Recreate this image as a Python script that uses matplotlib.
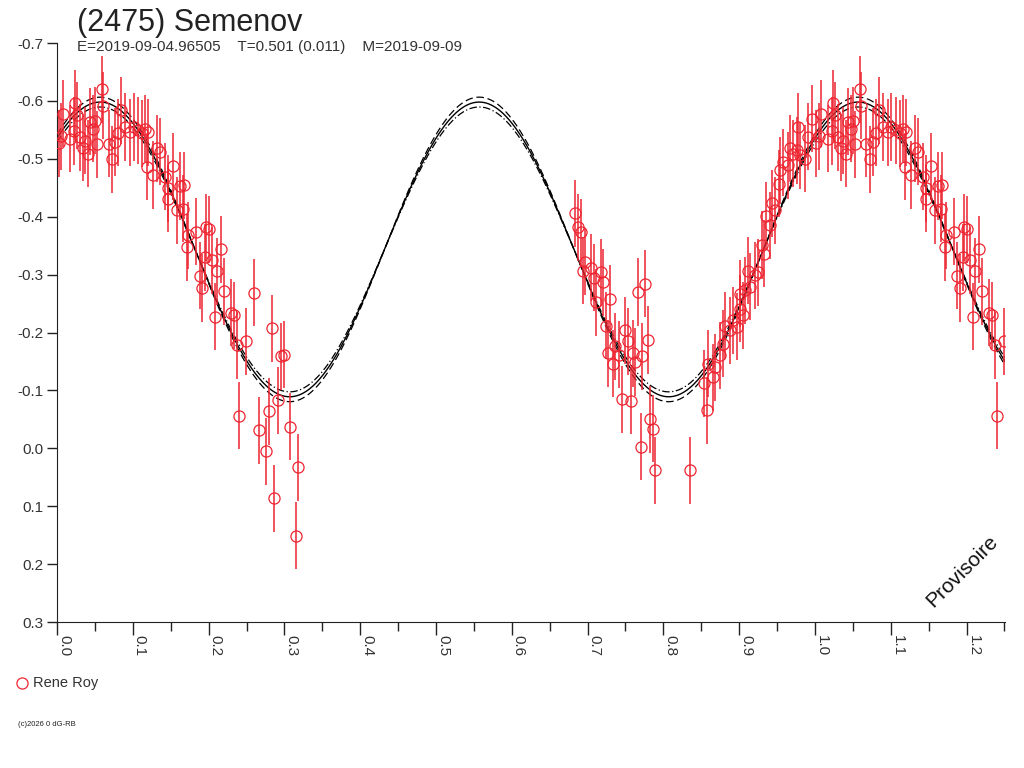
import numpy as np
import matplotlib
matplotlib.use('Agg')
from matplotlib import pyplot as plt
from matplotlib.ticker import MultipleLocator

plt.rcParams['font.family'] = ['Liberation Sans', 'DejaVu Sans']

# Observations (rotational phase, relative magnitude) - Rene Roy
phase = [0.002, 0.005, 0.008, 0.017, 0.022, 0.024, 0.026, 0.030, 0.034, 0.037,
         0.041, 0.044, 0.048, 0.050, 0.053, 0.059, 0.061, 0.068, 0.072, 0.077,
         0.081, 0.085, 0.090, 0.096, 0.101, 0.107, 0.112, 0.116, 0.120, 0.119,
         0.127, 0.132, 0.136, 0.142, 0.147, 0.147, 0.153, 0.162, 0.168, 0.158,
         0.166, 0.173, 0.171, 0.184, 0.197, 0.201, 0.188, 0.191, 0.195, 0.204,
         0.211, 0.216, 0.220, 0.208, 0.230, 0.234, 0.237, 0.249, 0.260, 0.240,
         0.266, 0.280, 0.276, 0.283, 0.292, 0.296, 0.299, 0.286, 0.308, 0.318,
         0.315,
         0.684, 0.688, 0.691, 0.694, 0.697, 0.704, 0.709, 0.718, 0.721, 0.711,
         0.730, 0.766, 0.776, 0.724, 0.750, 0.753, 0.736, 0.727, 0.741, 0.734,
         0.760, 0.763, 0.772, 0.780, 0.746, 0.757, 0.782, 0.786, 0.770, 0.789,
         0.835,
         0.857, 0.854, 0.859, 0.865, 0.868, 0.875, 0.879, 0.881, 0.888, 0.892,
         0.897, 0.901, 0.905, 0.901, 0.908, 0.912, 0.914, 0.921, 0.925, 0.930,
         0.933, 0.936, 0.941, 0.943, 0.947, 0.952, 0.954, 0.958, 0.965, 0.967,
         0.971, 0.976, 0.980, 0.987, 0.978, 0.991, 0.996]
mag = [-0.527, -0.539, -0.578, -0.535, -0.548, -0.596, -0.575, -0.537, -0.519, -0.531,
       -0.509, -0.564, -0.552, -0.566, -0.525, -0.620, -0.592, -0.526, -0.499, -0.529,
       -0.545, -0.584, -0.555, -0.546, -0.555, -0.549, -0.544, -0.552, -0.546, -0.486,
       -0.472, -0.518, -0.512, -0.469, -0.449, -0.431, -0.487, -0.453, -0.454, -0.411,
       -0.414, -0.368, -0.347, -0.374, -0.382, -0.378, -0.298, -0.277, -0.330, -0.325,
       -0.306, -0.344, -0.271, -0.227, -0.234, -0.230, -0.178, -0.185, -0.269, -0.056,
       -0.031, -0.064, 0.005, -0.207, -0.083, -0.159, -0.162, 0.086, -0.037, 0.033,
       0.151,
       -0.406, -0.382, -0.373, -0.307, -0.322, -0.312, -0.295, -0.304, -0.287, -0.252,
       -0.258, -0.270, -0.284, -0.212, -0.204, -0.185, -0.176, -0.164, -0.162, -0.146,
       -0.164, -0.149, -0.159, -0.187, -0.085, -0.082, -0.050, -0.034, -0.003, 0.038,
       0.038,
       -0.066, -0.112, -0.146, -0.123, -0.140, -0.161, -0.181, -0.212, -0.204, -0.221,
       -0.210, -0.241, -0.230, -0.267, -0.273, -0.307, -0.279, -0.299, -0.304, -0.351,
       -0.336, -0.402, -0.385, -0.423, -0.411, -0.457, -0.480, -0.494, -0.489, -0.518,
       -0.509, -0.515, -0.506, -0.500, -0.555, -0.538, -0.569]
mag_err = 0.058

# Fourier fit (2nd harmonic) and its uncertainty envelope
fit_mean = -0.3435
fit_amp = 0.2545
fit_amp_err = 0.0085
fit_epoch = 0.057

phase_max = 1.2507

phase = np.array(phase)
mag = np.array(mag)

# repeat the start of the cycle beyond phase 1.0
rep = phase < phase_max - 1.0
x_all = np.concatenate([phase, phase[rep] + 1.0])
y_all = np.concatenate([mag, mag[rep]])

fig = plt.figure(figsize=(10.24, 7.68), dpi=100)
ax = fig.add_axes([0.0557, 0.1901, 0.9257, 0.7539])

xs = np.linspace(0, phase_max, 800)
wave = np.cos(4 * np.pi * (xs - fit_epoch))
ax.plot(xs, fit_mean - fit_amp * wave, color='black', lw=1.0, zorder=2)
ax.plot(xs, fit_mean - (fit_amp + fit_amp_err) * wave, color='black', lw=0.9,
        linestyle=(0, (6, 3)), zorder=2)
ax.plot(xs, fit_mean - (fit_amp - fit_amp_err) * wave, color='black', lw=0.9,
        linestyle=(0, (6, 2, 1, 2)), zorder=2)

red = '#ee2530'
ax.errorbar(x_all, y_all, yerr=mag_err, fmt='o', ms=8, mfc='none', mec=red,
            mew=0.9, ecolor=red, elinewidth=1.1, capsize=0, zorder=3)

ax.set_xlim(0, phase_max)
ax.set_ylim(0.3, -0.7)

ax.spines['top'].set_visible(False)
ax.spines['right'].set_visible(False)
ax.spines['left'].set_color('#222222')
ax.spines['bottom'].set_color('#222222')

ax.yaxis.set_major_locator(MultipleLocator(0.1))
ax.xaxis.set_major_locator(MultipleLocator(0.1))
ax.xaxis.set_minor_locator(MultipleLocator(0.05))
ax.yaxis.set_major_formatter(plt.FuncFormatter(lambda v, p: '%.1f' % (0.0 if abs(v) < 1e-9 else v)))
ax.xaxis.set_major_formatter(plt.FuncFormatter(lambda v, p: '%.1f' % v))

ax.tick_params(axis='y', direction='out', length=7.5, width=1, color='#222222',
               labelsize=11, labelcolor='#333333', pad=2)
ax.tick_params(axis='x', which='major', direction='out', length=9.5, width=1,
               color='#222222', labelsize=11, labelcolor='#333333', pad=0)
ax.tick_params(axis='x', which='minor', direction='out', length=6.5, width=1,
               color='#222222')
for lab in ax.get_xticklabels():
    lab.set_rotation(-90)
    lab.set_ha('left')
    lab.set_va('top')

fig.text(0.075, 1 - 31 / 768, '(2475) Semenov', fontsize=22, color='#222222', va='baseline')
fig.text(0.075, 1 - 47 / 768, 'E=2019-09-04.96505    T=0.501 (0.011)    M=2019-09-09',
         fontsize=11, color='#333333', va='center')

ax.text(0.955, 0.087, 'Provisoire', transform=ax.transAxes, rotation=45,
        fontsize=15, color='#111111', ha='center', va='center')

# legend
fig.lines.append(plt.Line2D([22 / 1024], [1 - 683 / 768], transform=fig.transFigure,
                            marker='o', ms=8, mfc='none', mec=red, mew=0.9, ls='none'))
fig.text(33 / 1024, 1 - 683 / 768, 'Rene Roy', fontsize=10.5, color='#333333', va='center')

fig.text(18 / 1024, 1 - 725 / 768, '(c)2026 0 dG-RB', fontsize=5.5, color='#222222', va='center')

fig.savefig('out.png', dpi=100, facecolor='white')
